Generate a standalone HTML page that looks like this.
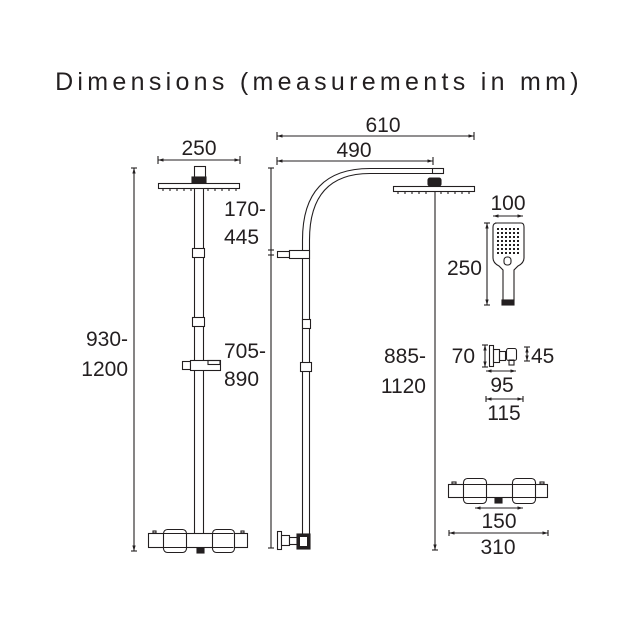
<!DOCTYPE html>
<html><head><style>
html,body{margin:0;padding:0;background:#fff;}
svg{display:block}
text{font-family:"Liberation Sans",sans-serif;fill:#231f20;}
</style></head><body>
<svg width="644" height="644" viewBox="0 0 644 644" xmlns="http://www.w3.org/2000/svg">
<defs>
<marker id="a" viewBox="0 0 10 10" refX="10" refY="5" markerWidth="5" markerHeight="5" orient="auto-start-reverse"><path d="M0,2 L10,5 L0,8 z" fill="#231f20"/></marker>
</defs>
<text x="319" y="90" font-size="25" text-anchor="middle" letter-spacing="4.3">Dimensions (measurements in mm)</text>

<g fill="none" stroke="#231f20" stroke-width="1.1">
<!-- LEFT VIEW -->
<line x1="158" y1="160" x2="240" y2="160" marker-start="url(#a)" marker-end="url(#a)"/>
<line x1="158" y1="156" x2="158" y2="164"/><line x1="240" y1="156" x2="240" y2="164"/>
<rect x="194.5" y="166.5" width="11" height="11"/>
<rect x="192" y="177" width="14" height="6" fill="#231f20"/>
<rect x="158.5" y="183.5" width="81" height="5"/>
<path d="M163 189v2M170 189v2M177 189v2M184 189v2M191 189v2M208 189v2M215 189v2M222 189v2M229 189v2M236 189v2"/>
<line x1="194.5" y1="189" x2="194.5" y2="533"/><line x1="203.5" y1="189" x2="203.5" y2="533"/>
<rect x="192.5" y="248.5" width="12" height="9" fill="#fff"/>
<rect x="192.5" y="317.5" width="12" height="9" fill="#fff"/>
<rect x="182.5" y="361.5" width="8" height="8" fill="#fff"/>
<rect x="190.5" y="360.5" width="30" height="10" fill="#fff"/>
<rect x="208" y="360.5" width="12" height="4"/>
<line x1="134" y1="168" x2="134" y2="551" marker-start="url(#a)" marker-end="url(#a)"/>
<line x1="131" y1="168" x2="137" y2="168"/><line x1="131" y1="551" x2="137" y2="551"/>
<rect x="148.5" y="533.5" width="99" height="14" fill="#fff"/>
<rect x="163.5" y="529.5" width="23" height="23" rx="4" fill="#fff"/>
<rect x="212.5" y="529.5" width="22" height="23" rx="4" fill="#fff"/>
<line x1="163.5" y1="533.5" x2="233.5" y2="533.5"/><line x1="163.5" y1="547.5" x2="233.5" y2="547.5"/>
<rect x="197" y="548" width="7" height="5" fill="#231f20"/>
<rect x="153" y="531" width="3" height="2"/><rect x="241" y="531" width="3" height="2"/>

<!-- MIDDLE VIEW -->
<line x1="277" y1="136" x2="474" y2="136" marker-start="url(#a)" marker-end="url(#a)"/>
<line x1="277" y1="132" x2="277" y2="140"/><line x1="474" y1="132" x2="474" y2="140"/>
<line x1="277" y1="161" x2="433" y2="161" marker-start="url(#a)" marker-end="url(#a)"/>
<line x1="277" y1="157" x2="277" y2="165"/><line x1="433" y1="157" x2="433" y2="165"/>
<line x1="271" y1="168" x2="271" y2="548"/>
<line x1="268" y1="168" x2="274" y2="168"/><line x1="268" y1="250" x2="274" y2="250"/><line x1="268" y1="255" x2="274" y2="255"/><line x1="268" y1="548" x2="274" y2="548"/>
<path d="M302.5 535 V240 Q302.5 168.5 370 168.5 H443"/>
<path d="M309.5 535 V240 Q309.5 173.5 370 173.5 H432"/>
<rect x="432.5" y="168.5" width="11" height="5"/>
<rect x="428" y="178" width="13" height="8" rx="2" fill="#231f20"/>
<rect x="393.5" y="186.5" width="81" height="5"/>
<path d="M398 192v2M405 192v2M412 192v2M419 192v2M426 192v2M441 192v2M448 192v2M455 192v2M462 192v2M469 192v2"/>
<rect x="277.5" y="251.5" width="12" height="6" fill="#fff"/>
<rect x="289.5" y="250.5" width="20" height="8" fill="#fff"/>
<rect x="302.5" y="319.5" width="8" height="9" fill="#fff"/>
<rect x="300.5" y="362.5" width="11" height="9" fill="#fff"/>
<line x1="435" y1="192" x2="435" y2="550" marker-end="url(#a)"/>
<line x1="432" y1="550" x2="438" y2="550"/>
<rect x="277.5" y="531.5" width="4" height="18" fill="#fff"/>
<rect x="281.5" y="535.5" width="8" height="10" fill="#fff"/>
<rect x="289.5" y="537.5" width="8" height="7" fill="#fff"/>
<rect x="297" y="534" width="13" height="15" fill="#231f20"/>
<rect x="300" y="537" width="7" height="9" fill="#fff" stroke="none"/>

<!-- HAND SHOWER -->
<line x1="493" y1="216" x2="523" y2="216" marker-start="url(#a)" marker-end="url(#a)"/>
<line x1="487" y1="223" x2="487" y2="305" marker-start="url(#a)" marker-end="url(#a)"/>
<line x1="484" y1="223" x2="490" y2="223"/><line x1="484" y1="305" x2="490" y2="305"/>
<path d="M495 223 H521 Q524 223 524 227 V258 Q524 263 518 266 L514 270 V300 H503 V270 L499 266 Q493 263 493 258 V227 Q493 223 497 223 Z"/>
<rect x="502" y="300" width="12" height="5" fill="#231f20"/>
<rect x="504" y="257" width="7" height="8" rx="3"/>
<g stroke-width="2" stroke-dasharray="2 2">
<path d="M497 229h23M497 233h23M497 237h23M497 241h23M497 245h23M497 249h23M497 253h23"/>
</g>

<!-- ELBOW -->
<line x1="485" y1="345" x2="485" y2="367" marker-start="url(#a)" marker-end="url(#a)"/>
<line x1="482" y1="345" x2="488" y2="345"/><line x1="482" y1="367" x2="488" y2="367"/>
<rect x="489.5" y="345.5" width="4" height="21"/>
<rect x="493.5" y="349.5" width="6" height="13"/>
<rect x="499.5" y="351.5" width="6" height="9"/>
<rect x="506.5" y="348.5" width="10" height="12" rx="2"/>
<rect x="509" y="360" width="5" height="5"/>
<line x1="527" y1="347" x2="527" y2="361" marker-start="url(#a)" marker-end="url(#a)"/>
<line x1="524" y1="347" x2="530" y2="347"/><line x1="524" y1="361" x2="530" y2="361"/>
<line x1="486" y1="371" x2="516" y2="371" marker-start="url(#a)" marker-end="url(#a)"/>
<line x1="486" y1="399" x2="523" y2="399" marker-start="url(#a)" marker-end="url(#a)"/>
<line x1="486" y1="396" x2="486" y2="402"/><line x1="523" y1="396" x2="523" y2="402"/>

<!-- BAR VALVE RIGHT -->
<rect x="448.5" y="484.5" width="99" height="13" fill="#fff"/>
<rect x="463.5" y="478.5" width="23" height="25" rx="4" fill="#fff"/>
<rect x="512.5" y="478.5" width="23" height="25" rx="4" fill="#fff"/>
<line x1="463.5" y1="484.5" x2="535.5" y2="484.5"/><line x1="463.5" y1="497.5" x2="535.5" y2="497.5"/>
<rect x="495" y="498" width="7" height="5" fill="#231f20"/>
<rect x="452" y="482" width="4" height="2"/><rect x="540" y="482" width="4" height="2"/>
<line x1="475" y1="508" x2="523" y2="508" marker-start="url(#a)" marker-end="url(#a)"/>
<line x1="449" y1="533" x2="548" y2="533" marker-start="url(#a)" marker-end="url(#a)"/>
<line x1="449" y1="530" x2="449" y2="536"/><line x1="548" y1="530" x2="548" y2="536"/>
</g>

<g font-size="21">
<text x="199" y="155" text-anchor="middle">250</text>
<text x="128" y="346" text-anchor="end">930-</text>
<text x="128" y="376" text-anchor="end">1200</text>
<text x="224" y="216">170-</text>
<text x="224" y="244">445</text>
<text x="224" y="358">705-</text>
<text x="224" y="386">890</text>
<text x="383" y="132" text-anchor="middle">610</text>
<text x="354" y="157" text-anchor="middle">490</text>
<text x="426" y="363" text-anchor="end">885-</text>
<text x="426" y="393" text-anchor="end">1120</text>
<text x="508" y="210" text-anchor="middle">100</text>
<text x="482" y="275" text-anchor="end">250</text>
<text x="475" y="363" text-anchor="end">70</text>
<text x="531" y="363">45</text>
<text x="502" y="392" text-anchor="middle">95</text>
<text x="504" y="420" text-anchor="middle">115</text>
<text x="499" y="528" text-anchor="middle">150</text>
<text x="498" y="554" text-anchor="middle">310</text>
</g>
</svg>
</body></html>
